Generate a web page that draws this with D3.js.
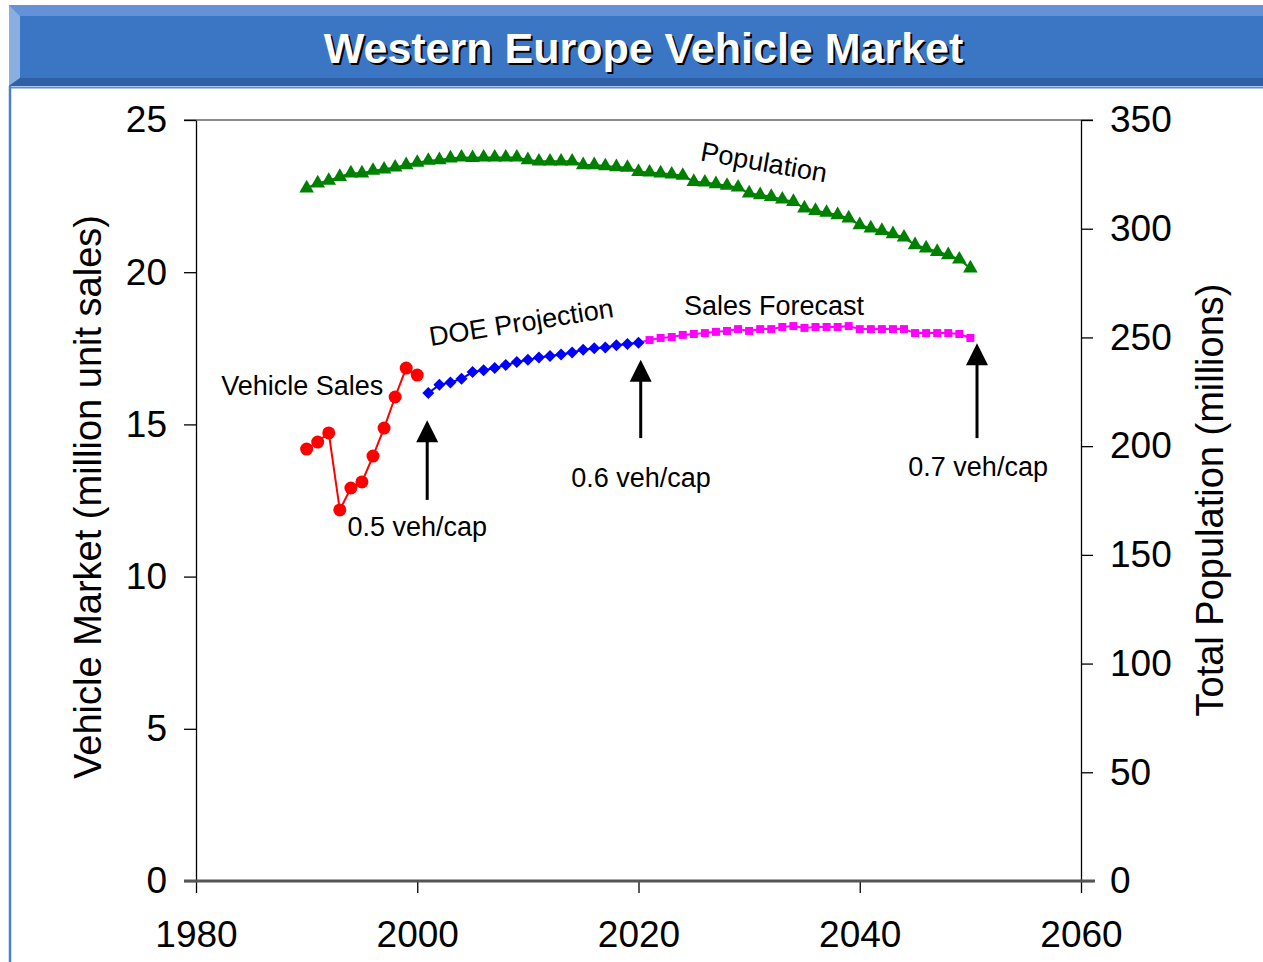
<!DOCTYPE html>
<html>
<head>
<meta charset="utf-8">
<script src="https://cdn.jsdelivr.net/npm/d3@7"></script>
<style>
  body { margin: 0; background: #ffffff; }
  svg { display: block; font-family: Arial, "Liberation Sans", sans-serif; }
</style>
</head>
<body>
<div id="chart"></div>
<script>
// vehicle sales, million units, 1990-2000
const salesStart = 1990
const salesValues = [14.19, 14.42, 14.72, 12.19, 12.91, 13.11, 13.96, 14.88, 15.90, 16.85, 16.62]

// DOE projection, 2001-2020
const doeStart = 2001
const doeValues = [16.03, 16.30, 16.38, 16.50, 16.72, 16.78, 16.85, 16.95, 17.05, 17.12,
  17.20, 17.25, 17.30, 17.36, 17.45, 17.50, 17.53, 17.60, 17.64, 17.68]

// sales forecast, 2021-2050
const forecastStart = 2021
const forecastValues = [17.77, 17.84, 17.87, 17.94, 17.97, 18.00, 18.04, 18.07, 18.13, 18.07,
  18.13, 18.13, 18.20, 18.23, 18.17, 18.20, 18.20, 18.20, 18.23, 18.13,
  18.13, 18.13, 18.13, 18.13, 18.00, 18.00, 18.00, 18.00, 17.97, 17.84]

// total population, millions, 1990-2050
const popStart = 1990
const popValues = [318.6, 320.9, 322.1, 323.9, 325.5, 325.5, 326.7, 327.3, 328.2, 329.3,
  330.4, 331.3, 331.6, 332.4, 332.8, 332.6, 332.8, 332.8, 332.8, 332.8,
  331.6, 331.0, 331.0, 331.0, 331.0, 329.3, 329.3, 328.8, 328.4, 328.1,
  326.2, 325.9, 325.5, 325.0, 324.4, 321.6, 321.3, 320.6, 319.8, 319.0,
  316.3, 315.5, 314.7, 313.5, 312.4, 309.4, 308.3, 307.4, 306.3, 304.8,
  301.7, 300.2, 299.1, 297.6, 296.0, 292.5, 291.0, 289.4, 287.9, 285.9,
  281.8]

// tick labels
const xTicks = [1980, 2000, 2020, 2040, 2060]
const yLeftTicks = [0, 5, 10, 15, 20, 25]
const yRightTicks = [0, 50, 100, 150, 200, 250, 300, 350]

const toPoints = (start, values) => values.map((v, i) => ({ year: start + i, value: v }))
const sales = toPoints(salesStart, salesValues)
const doe = toPoints(doeStart, doeValues)
const forecast = toPoints(forecastStart, forecastValues)
const population = toPoints(popStart, popValues)

const width = 1263
const height = 962
const font = 'Arial, "Liberation Sans", sans-serif'

const svg = d3.select('#chart').append('svg')
  .attr('width', width)
  .attr('height', height)

// 标题栏
const bar = svg.append('g')
bar.append('rect').attr('x', 9).attr('y', 5).attr('width', width - 9).attr('height', 81).attr('fill', '#3b76c5')
bar.append('path').attr('d', `M9,5 L${width},5 L${width},16 L20,16 Z`).attr('fill', '#6592d6')
bar.append('path').attr('d', 'M9,5 L20,16 L20,78 L9,86 Z').attr('fill', '#8aaee2')
bar.append('path').attr('d', `M9,86 L20,78 L${width},78 L${width},86 Z`).attr('fill', '#2f5fa6')
bar.append('line').attr('x1', 9).attr('x2', width).attr('y1', 87.5).attr('y2', 87.5)
  .attr('stroke', '#5d8fd8').attr('stroke-width', 2)
bar.append('line').attr('x1', 10).attr('x2', 10).attr('y1', 86).attr('y2', height)
  .attr('stroke', '#4a80d2').attr('stroke-width', 2.5)

const title = 'Western Europe Vehicle Market'
bar.append('text').attr('x', 645.5).attr('y', 65).attr('text-anchor', 'middle')
  .style('font', `bold 43px ${font}`).attr('fill', '#000').text(title)
bar.append('text').attr('x', 643.5).attr('y', 63).attr('text-anchor', 'middle')
  .style('font', `bold 43px ${font}`).attr('fill', '#fff').text(title)

// scales
const x = d3.scaleLinear().domain([1980, 2060]).range([196, 1081])
const yL = d3.scaleLinear().domain([0, 25]).range([881, 120])
const yR = d3.scaleLinear().domain([0, 350]).range([881, 120])

// plot frame: top border
svg.append('line').attr('x1', 184).attr('x2', 1093).attr('y1', yL(25)).attr('y2', yL(25))
  .attr('stroke', '#8c8c8c').attr('stroke-width', 2)

// axes
const leftAxis = svg.append('g').attr('transform', 'translate(196,0)')
  .call(d3.axisLeft(yL).tickValues(yLeftTicks).tickSize(12).tickSizeOuter(0).tickPadding(17))
const rightAxis = svg.append('g').attr('transform', 'translate(1081,0)')
  .call(d3.axisRight(yR).tickValues(yRightTicks).tickSize(12).tickSizeOuter(0).tickPadding(17))
const bottomAxis = svg.append('g').attr('transform', 'translate(0,881)')
  .call(d3.axisBottom(x).tickValues(xTicks).tickFormat(d3.format('d')).tickSize(12).tickSizeOuter(0).tickPadding(28))

;[leftAxis, rightAxis, bottomAxis].forEach(a => {
  a.selectAll('text').style('font', `37px ${font}`).attr('fill', '#000')
  a.selectAll('line').attr('stroke', '#000').attr('stroke-width', 1.3)
  a.select('.domain').attr('stroke', '#000').attr('stroke-width', 1.3)
})
bottomAxis.select('.domain').remove()
svg.append('line').attr('x1', 184).attr('x2', 1095).attr('y1', yL(0)).attr('y2', yL(0))
  .attr('stroke', '#555').attr('stroke-width', 3)

// axis titles
svg.append('text').attr('transform', 'translate(101,497) rotate(-90)')
  .attr('text-anchor', 'middle').style('font', `38px ${font}`).text('Vehicle Market (million unit sales)')
svg.append('text').attr('transform', 'translate(1223,500) rotate(-90)')
  .attr('text-anchor', 'middle').style('font', `38px ${font}`).text('Total Population (millions)')

// series
const lineL = d3.line().x(d => x(d.year)).y(d => yL(d.value))
const lineR = d3.line().x(d => x(d.year)).y(d => yR(d.value))

// population
svg.append('path').datum(population).attr('d', lineR)
  .attr('fill', 'none').attr('stroke', '#008000').attr('stroke-width', 2)
svg.selectAll('path.pop').data(population).enter().append('path')
  .classed('pop', true)
  .attr('transform', d => `translate(${x(d.year)},${yR(d.value)})`)
  .attr('d', d3.symbol(d3.symbolTriangle, 92))
  .attr('fill', '#008000')

// vehicle sales
svg.append('path').datum(sales).attr('d', lineL)
  .attr('fill', 'none').attr('stroke', '#ff0000').attr('stroke-width', 2)
svg.selectAll('circle.sales').data(sales).enter().append('circle')
  .classed('sales', true)
  .attr('cx', d => x(d.year)).attr('cy', d => yL(d.value)).attr('r', 6.5)
  .attr('fill', '#ff0000')

// forecast line starts at the last DOE point
svg.append('path').datum([doe[doe.length - 1]].concat(forecast)).attr('d', lineL)
  .attr('fill', 'none').attr('stroke', '#ff00ff').attr('stroke-width', 2)
svg.selectAll('path.fc').data(forecast).enter().append('path')
  .classed('fc', true)
  .attr('transform', d => `translate(${x(d.year)},${yL(d.value)})`)
  .attr('d', d3.symbol(d3.symbolSquare, 64))
  .attr('fill', '#ff00ff')

// DOE projection
svg.append('path').datum(doe).attr('d', lineL)
  .attr('fill', 'none').attr('stroke', '#0000ff').attr('stroke-width', 2)
svg.selectAll('path.doe').data(doe).enter().append('path')
  .classed('doe', true)
  .attr('transform', d => `translate(${x(d.year)},${yL(d.value)}) rotate(45)`)
  .attr('d', d3.symbol(d3.symbolSquare, 72))
  .attr('fill', '#0000ff')

// labels
const labels = [
  { text: 'Vehicle Sales', year: 1989.6, value: 16.26, angle: 0 },
  { text: 'DOE Projection', year: 2009.4, value: 18.36, angle: -9 },
  { text: 'Sales Forecast', year: 2032.25, value: 18.92, angle: 0 },
  { text: 'Population', year: 2031.35, value: 23.62, angle: 10 },
  { text: '0.5 veh/cap', year: 2000.0, value: 11.66, angle: 0 },
  { text: '0.6 veh/cap', year: 2020.23, value: 13.24, angle: 0 },
  { text: '0.7 veh/cap', year: 2050.7, value: 13.63, angle: 0 }
]
svg.selectAll('text.note').data(labels).enter().append('text')
  .classed('note', true)
  .attr('transform', d => `translate(${x(d.year)},${yL(d.value)}) rotate(${d.angle})`)
  .attr('text-anchor', 'middle').attr('dy', '0.35em')
  .style('font', `27px ${font}`).attr('fill', '#000')
  .text(d => d.text)

// arrows
const arrows = [
  { year: 2000.9, from: 12.52, to: 15.14 },
  { year: 2020.2, from: 14.55, to: 17.12 },
  { year: 2050.6, from: 14.55, to: 17.67 }
]
const ag = svg.selectAll('g.arrow').data(arrows).enter().append('g').classed('arrow', true)
ag.append('line')
  .attr('x1', d => x(d.year)).attr('x2', d => x(d.year))
  .attr('y1', d => yL(d.from)).attr('y2', d => yL(d.to) + 18)
  .attr('stroke', '#000').attr('stroke-width', 3)
ag.append('path')
  .attr('d', d => {
    const cx = x(d.year), ty = yL(d.to)
    return `M${cx},${ty} L${cx + 11},${ty + 22} L${cx - 11},${ty + 22} Z`
  })
  .attr('fill', '#000')
</script>
</body>
</html>
